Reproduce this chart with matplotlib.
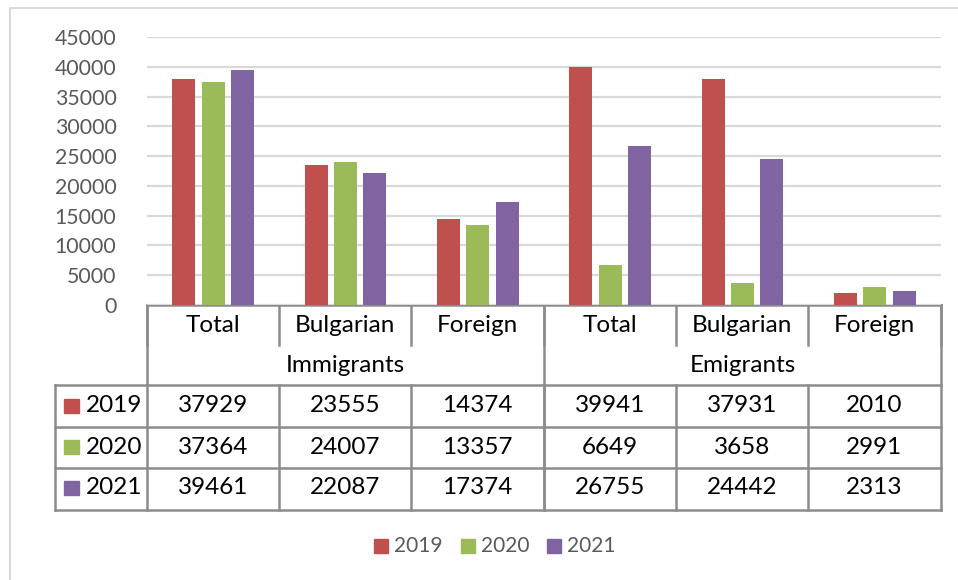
import matplotlib
matplotlib.use("Agg")
import matplotlib.pyplot as plt
from matplotlib.patches import Rectangle

plt.rcParams['font.family'] = ['Lato', 'DejaVu Sans']

# Data
groups = ["Immigrants", "Emigrants"]
categories = ["Total", "Bulgarian", "Foreign"]
years = ["2019", "2020", "2021"]
values_2019 = [37929, 23555, 14374, 39941, 37931, 2010]
values_2020 = [37364, 24007, 13357, 6649, 3658, 2991]
values_2021 = [39461, 22087, 17374, 26755, 24442, 2313]
series = [values_2019, values_2020, values_2021]
colors = ["#C0504D", "#9BBB59", "#8064A2"]
yticks = [0, 5000, 10000, 15000, 20000, 25000, 30000, 35000, 40000, 45000]

W, H = 958, 580
fig = plt.figure(figsize=(W / 100, H / 100), dpi=100)

def fx(px):
    return px / W

def fy(py):
    return 1 - py / H

# Pixel-space overlay for frame, table and legend
ov = fig.add_axes([0, 0, 1, 1], zorder=0)
ov.set_xlim(0, W)
ov.set_ylim(H, 0)
ov.axis("off")

# Outer chart frame
ov.plot([10, 10, W + 5], [H + 5, 8, 8], color="#d9d9d9", lw=1.5, solid_capstyle="butt")

# Plot axes
x_left, x_right, y_top, y_base = 147, 941, 37, 305
ax = fig.add_axes([fx(x_left), fy(y_base), fx(x_right) - fx(x_left), fy(y_top) - fy(y_base)], zorder=1)
ax.patch.set_alpha(0)
n = len(categories) * len(groups)
ax.set_xlim(0, n)
ax.set_ylim(0, 45000)
bw = 0.174
step = 0.222
for i, (vals, c) in enumerate(zip(series, colors)):
    xs = [k + 0.5 + (i - 1) * step for k in range(n)]
    ax.bar(xs, vals, width=bw, color=c, zorder=3)
ax.set_yticks(yticks)
ax.set_yticklabels([str(t) for t in yticks], fontsize=15.3, color="#595959")
ax.tick_params(axis="y", length=0, pad=22)
ax.set_xticks([])
ax.grid(axis="y", color="#d9d9d9", lw=1.6, zorder=0)
for s in ax.spines.values():
    s.set_visible(False)

# Data table
col_x = [147, 279, 411, 544, 676, 808, 941]
row_y = [305, 345, 385, 427, 468, 510]
lc = "#8c8c8c"
lw = 1.8
tfs = 17.5
ov.plot([col_x[0], col_x[-1]], [row_y[0], row_y[0]], color=lc, lw=lw, zorder=5)
for x in col_x:
    ov.plot([x, x], [row_y[0], row_y[1]], color=lc, lw=lw, zorder=5)
for x in (col_x[0], col_x[3], col_x[6]):
    ov.plot([x, x], [row_y[0], row_y[-1]], color=lc, lw=lw, zorder=5)
for y in row_y[2:]:
    ov.plot([55, col_x[-1]], [y, y], color=lc, lw=lw, zorder=5)
ov.plot([55, 55], [row_y[2], row_y[-1]], color=lc, lw=lw, zorder=5)
for x in col_x[1:-1]:
    ov.plot([x, x], [row_y[2], row_y[-1]], color=lc, lw=lw, zorder=5)

for k in range(n):
    cx = (col_x[k] + col_x[k + 1]) / 2
    ov.text(cx, 325, categories[k % 3], ha="center", va="center", fontsize=tfs, color="black")
for g, name in enumerate(groups):
    cx = (col_x[3 * g] + col_x[3 * g + 3]) / 2
    ov.text(cx, 365, name, ha="center", va="center", fontsize=tfs, color="black")

row_centers = [406, 447, 488]
for i, (yr, vals, c) in enumerate(zip(years, series, colors)):
    yc = row_centers[i]
    ov.add_patch(Rectangle((64, yc - 7), 15, 14, color=c, zorder=6))
    ov.text(86, yc, yr, ha="left", va="center", fontsize=tfs, color="black")
    for k in range(n):
        cx = (col_x[k] + col_x[k + 1]) / 2
        ov.text(cx, yc, str(vals[k]), ha="center", va="center", fontsize=tfs, color="black")

# Legend
leg_sq = [374, 461, 547]
for yr, c, sx in zip(years, colors, leg_sq):
    ov.add_patch(Rectangle((sx, 539), 14, 14, color=c, zorder=6))
    ov.text(sx + 20, 546, yr, ha="left", va="center", fontsize=15, color="#595959")

fig.savefig("out.png", dpi=100)
